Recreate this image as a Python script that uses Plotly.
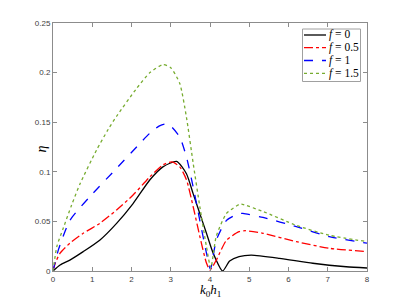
import plotly.graph_objects as go

# ---- data ----
x_f0 = [0, 0.18, 0.43, 0.77, 1.19, 1.62, 2.04, 2.47, 2.80, 3.15, 3.40, 3.57, 3.74, 3.91, 4.08, 4.32, 4.50, 4.74, 5.05, 5.77, 6.62, 7.47, 8.0]
y_f0 = [0, 0.006, 0.011, 0.0195, 0.031, 0.048, 0.068, 0.092, 0.105, 0.1105, 0.098, 0.078, 0.058, 0.038, 0.018, 0.0, 0.010, 0.0145, 0.016, 0.0128, 0.0078, 0.0043, 0.003]

x_f05 = [0, 0.06, 0.18, 0.43, 0.77, 1.19, 1.62, 2.04, 2.47, 2.80, 3.03, 3.23, 3.40, 3.57, 3.74, 3.91, 4.00, 4.16, 4.42, 4.74, 4.90, 5.35, 6.20, 7.04, 8.0]
y_f05 = [0, 0.008, 0.018, 0.028, 0.038, 0.048, 0.0615, 0.0766, 0.095, 0.107, 0.110, 0.105, 0.092, 0.065, 0.035, 0.008, 0.001, 0.011, 0.031, 0.0396, 0.0406, 0.038, 0.0296, 0.0229, 0.0195]

x_f1 = [0, 0.135, 0.43, 0.94, 1.62, 2.20, 2.47, 2.70, 2.85, 3.00, 3.23, 3.40, 3.57, 3.74, 3.91, 4.01, 4.16, 4.42, 4.74, 4.84, 5.35, 6.20, 7.04, 8.0]
y_f1 = [0, 0.021, 0.051, 0.075, 0.1035, 0.128, 0.139, 0.146, 0.148, 0.146, 0.135, 0.115, 0.085, 0.051, 0.018, 0.002, 0.031, 0.051, 0.058, 0.058, 0.054, 0.0447, 0.0346, 0.028]

x_f15 = [0, 0.10, 0.26, 0.47, 0.69, 1.11, 1.41, 1.62, 2.13, 2.47, 2.80, 3.00, 3.23, 3.40, 3.57, 3.74, 3.91, 4.02, 4.16, 4.42, 4.74, 4.80, 5.35, 6.20, 7.04, 8.0]
y_f15 = [0, 0.025, 0.043, 0.066, 0.088, 0.122, 0.143, 0.156, 0.184, 0.200, 0.208, 0.205, 0.189, 0.155, 0.109, 0.065, 0.0245, 0.003, 0.035, 0.058, 0.067, 0.0675, 0.060, 0.046, 0.036, 0.0296]

series_names = ["<i>f</i> = 0", "<i>f</i> = 0.5", "<i>f</i> = 1", "<i>f</i> = 1.5"]
x_ticks = [0, 1, 2, 3, 4, 5, 6, 7, 8]
y_ticks = [0, 0.05, 0.1, 0.15, 0.2, 0.25]
y_tick_labels = ["0", "0.05", "0.1", "0.15", "0.2", "0.25"]

# ---- styles ----
colors = ["#000000", "#ff0000", "#0000ff", "#77ac30"]
dashes = ["solid", "dashdot", "dash", "dot"]
xs = [x_f0, x_f05, x_f1, x_f15]
ys = [y_f0, y_f05, y_f1, y_f15]

# page body has an 8px margin; target pixel positions are in window coords
OFF = 8
W, H = 407 - OFF, 305 - OFF
PL, PR, PT, PB = 53, 367, 23, 271   # plot area in window pixels
L, R, T, B = PL - OFF, 407 - PR, PT - OFF, 305 - PB
pw, ph = PR - PL, PB - PT

fig = go.Figure()
for xv, yv, c, d, n in zip(xs, ys, colors, dashes, series_names):
    fig.add_trace(go.Scatter(x=xv, y=yv, mode="lines", name=n,
                             line=dict(color=c, dash=d, width=1.3, shape="spline", smoothing=0.6),
                             showlegend=False))

axis_col = "#8c8c8c"
tick_font = dict(family="Liberation Sans, Arial", size=8, color="#404040")
fig.update_xaxes(range=[0, 8], tickvals=x_ticks, ticks="inside", ticklen=4, tickcolor=axis_col,
                 showline=True, linecolor=axis_col, linewidth=1, mirror="ticks",
                 showgrid=False, zeroline=False, tickfont=tick_font)
fig.update_yaxes(range=[0, 0.25], tickvals=y_ticks, ticktext=y_tick_labels, ticks="inside", ticklen=4,
                 tickcolor=axis_col, showline=True, linecolor=axis_col, linewidth=1, mirror="ticks",
                 showgrid=False, zeroline=False, tickfont=tick_font)

def fx(px):
    return (px - PL) / pw

def fy(py):
    return (PB - py) / ph

serif = "Liberation Serif, DejaVu Serif, serif"
annotations = [
    dict(text="<i>k</i><sub>0</sub><i>h</i><sub>1</sub>", xref="paper", yref="paper",
         x=fx(210), y=fy(290), yanchor="middle", showarrow=False,
         font=dict(family=serif, size=13, color="#000")),
    dict(text="<i>η</i>", xref="paper", yref="paper", x=fx(31), y=fy(149), showarrow=False,
         textangle=-90, font=dict(family=serif, size=14, color="#000")),
]
shapes = [dict(type="rect", xref="paper", yref="paper", x0=fx(302.5), x1=fx(360.5),
               y0=fy(81.5), y1=fy(29), line=dict(color="#a0a0a0", width=1), fillcolor="white", layer="above")]
rows = [35, 47.7, 60.5, 73.3]
for py, c, d, n in zip(rows, colors, dashes, series_names):
    shapes.append(dict(type="line", xref="paper", yref="paper", x0=fx(304), x1=fx(326), y0=fy(py), y1=fy(py),
                       line=dict(color=c, dash=d, width=1.3), layer="above"))
    annotations.append(dict(text=n, xref="paper", yref="paper", x=fx(327), y=fy(py), xanchor="left",
                            yanchor="middle", showarrow=False,
                            font=dict(family=serif, size=11.5, color="#000")))

fig.update_layout(width=W, height=H, margin=dict(l=L, r=R, t=T, b=B),
                  plot_bgcolor="white", paper_bgcolor="white",
                  annotations=annotations, shapes=shapes, showlegend=False)

fig.write_html("out.html")
